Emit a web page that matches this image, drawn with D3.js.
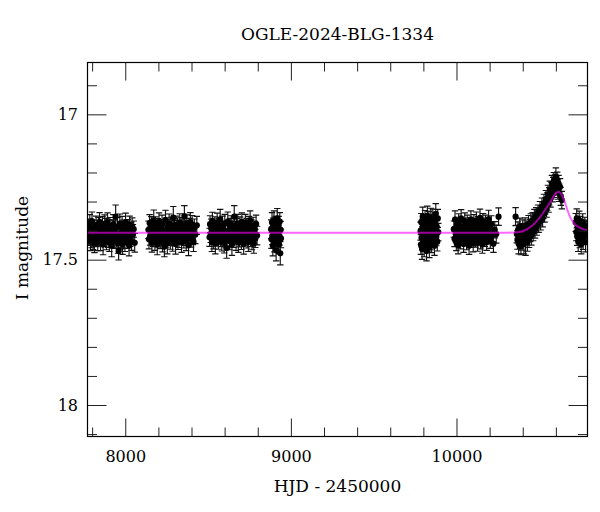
<!DOCTYPE html>
<html><head><meta charset="utf-8">
<script src="https://cdn.jsdelivr.net/npm/d3@7"></script>
<style>body{margin:0;background:#fff}svg{display:block}</style>
</head><body><svg id="c" width="600" height="512"></svg>
<script>
// ---- data: [HJD-2450000, I mag, error] ----
const season1 = [[7776,17.420,.031],[7779,17.388,.028],[7783,17.413,.034],[7786,17.375,.030],[7790,17.436,.033],[7793,17.400,.027],[7797,17.423,.036],[7799,17.367,.031],[7803,17.410,.029],[7806,17.430,.035],
[7810,17.394,.030],[7814,17.444,.032],[7817,17.403,.028],[7820,17.417,.037],[7824,17.381,.031],[7827,17.426,.029],[7831,17.406,.033],[7834,17.439,.030],[7838,17.389,.034],[7841,17.415,.028],
[7845,17.370,.032],[7848,17.421,.030],[7851,17.433,.036],[7855,17.397,.029],[7858,17.412,.031],[7862,17.385,.033],[7866,17.448,.035],[7869,17.401,.028],[7872,17.424,.030],[7876,17.378,.032],
[7879,17.418,.029],[7883,17.392,.034],[7886,17.435,.031],[7890,17.409,.028],[7893,17.372,.033],[7897,17.428,.030],[7900,17.399,.036],[7904,17.441,.031],[7907,17.384,.029],[7911,17.414,.032],
[7914,17.405,.030],[7918,17.452,.038],[7921,17.391,.028],[7925,17.419,.031],[7928,17.379,.034],[7932,17.432,.029],[7935,17.396,.030],[7939,17.411,.033],[7942,17.352,.040],[7946,17.427,.030],
[7949,17.416,.028],[7953,17.387,.032],[7956,17.443,.035],[7960,17.470,.031],[7963,17.422,.029],[7967,17.376,.033],[7970,17.434,.030],[7974,17.407,.028],[7977,17.425,.034],[7981,17.382,.031],
[7984,17.446,.036],[7988,17.393,.029],[7991,17.429,.032],[7995,17.398,.030],[7998,17.438,.034],[8002,17.371,.031],[8005,17.417,.029],[8009,17.404,.033],[8012,17.431,.030],[8016,17.390,.028],
[8019,17.410,.032],[8023,17.450,.037],[8026,17.380,.030],[8030,17.421,.033],[8034,17.400,.029],[8038,17.437,.031],[8042,17.386,.030],[8046,17.413,.034],[8051,17.395,.028],[8057,17.442,.032]];

const season2 = [[8140,17.397,.030],[8143,17.430,.033],[8147,17.374,.029],[8150,17.419,.031],[8154,17.408,.028],[8157,17.386,.034],[8161,17.442,.032],[8165,17.393,.030],[8168,17.426,.029],[8172,17.365,.036],
[8175,17.411,.030],[8179,17.435,.033],[8182,17.381,.028],[8186,17.415,.031],[8190,17.402,.029],[8193,17.448,.035],[8197,17.389,.030],[8200,17.424,.032],[8204,17.370,.031],[8207,17.406,.028],
[8211,17.432,.030],[8215,17.396,.033],[8218,17.417,.029],[8222,17.378,.031],[8225,17.439,.034],[8229,17.400,.028],[8232,17.421,.030],[8236,17.455,.035],[8240,17.413,.029],[8243,17.363,.033],
[8247,17.428,.031],[8250,17.404,.028],[8254,17.444,.036],[8257,17.391,.030],[8261,17.416,.029],[8265,17.375,.032],[8268,17.409,.030],[8272,17.431,.033],[8275,17.383,.029],[8279,17.420,.031],
[8282,17.398,.028],[8286,17.437,.034],[8290,17.355,.038],[8293,17.423,.030],[8297,17.394,.029],[8300,17.407,.031],[8304,17.446,.035],[8307,17.380,.030],[8311,17.414,.028],[8315,17.388,.032],
[8318,17.434,.031],[8322,17.401,.029],[8325,17.425,.033],[8329,17.372,.030],[8332,17.418,.028],[8336,17.403,.031],[8340,17.441,.034],[8343,17.384,.029],[8347,17.412,.030],[8350,17.392,.032],
[8354,17.429,.031],[8357,17.350,.036],[8361,17.422,.029],[8365,17.399,.030],[8368,17.436,.033],[8372,17.377,.031],[8375,17.416,.028],[8379,17.395,.030],[8382,17.450,.036],[8386,17.387,.029],
[8390,17.410,.031],[8393,17.371,.033],[8397,17.427,.030],[8400,17.405,.028],[8404,17.379,.031],[8408,17.419,.029],[8412,17.438,.034],[8417,17.390,.030],[8423,17.413,.032],[8432,17.382,.031]];

const season3 = [[8509,17.423,.031],[8512,17.378,.029],[8516,17.411,.030],[8519,17.393,.033],[8523,17.440,.032],[8526,17.367,.030],[8530,17.416,.028],[8533,17.429,.034],[8537,17.401,.029],[8541,17.384,.031],
[8544,17.445,.035],[8548,17.396,.030],[8551,17.420,.029],[8555,17.372,.032],[8558,17.407,.028],[8562,17.433,.031],[8565,17.389,.030],[8569,17.414,.033],[8573,17.361,.034],[8576,17.426,.029],
[8580,17.404,.030],[8583,17.438,.032],[8587,17.381,.031],[8590,17.418,.028],[8594,17.398,.030],[8597,17.443,.034],[8601,17.375,.031],[8605,17.410,.029],[8608,17.424,.032],[8612,17.460,.035],
[8615,17.431,.030],[8619,17.369,.033],[8622,17.413,.029],[8626,17.402,.031],[8629,17.436,.030],[8633,17.386,.028],[8637,17.421,.032],[8640,17.379,.030],[8644,17.449,.036],[8647,17.395,.029],
[8651,17.406,.031],[8654,17.428,.030],[8658,17.352,.038],[8661,17.417,.029],[8665,17.400,.031],[8669,17.435,.033],[8672,17.388,.030],[8676,17.412,.028],[8679,17.376,.032],[8683,17.441,.034],
[8686,17.397,.029],[8690,17.425,.031],[8693,17.383,.030],[8697,17.408,.028],[8701,17.432,.033],[8704,17.370,.031],[8708,17.419,.029],[8711,17.394,.030],[8715,17.446,.035],[8718,17.403,.028],
[8722,17.422,.031],[8725,17.374,.030],[8729,17.415,.029],[8733,17.390,.032],[8736,17.430,.030],[8740,17.399,.028],[8743,17.439,.033],[8747,17.382,.031],[8750,17.409,.029],[8754,17.366,.034],
[8757,17.424,.030],[8761,17.392,.029],[8765,17.434,.032],[8768,17.405,.030],[8772,17.385,.031],[8776,17.444,.034],[8780,17.396,.029],[8785,17.427,.031],[8790,17.377,.030],[8796,17.417,.032]];

const season4 = [[8881,17.395,.032],[8883,17.430,.031],[8886,17.372,.034],[8888,17.418,.030],[8891,17.452,.035],[8893,17.388,.031],[8896,17.410,.029],[8898,17.365,.033],[8901,17.441,.032],[8903,17.401,.030],
[8906,17.425,.031],[8908,17.380,.029],[8911,17.468,.036],[8913,17.392,.030],[8916,17.415,.031],[8918,17.358,.034],[8921,17.436,.030],[8923,17.405,.029],[8926,17.383,.032],[8928,17.447,.033],
[8931,17.420,.030],[8933,17.369,.031],[8936,17.478,.040],[8938,17.398,.030],[8940,17.427,.032]];

const season5 = [[9783,17.402,.031],[9785,17.448,.034],[9787,17.371,.030],[9789,17.425,.032],[9792,17.463,.036],[9794,17.390,.029],[9796,17.352,.033],[9798,17.436,.031],[9801,17.411,.030],[9803,17.378,.032],
[9805,17.455,.035],[9808,17.397,.029],[9810,17.362,.031],[9812,17.430,.033],[9815,17.415,.030],[9817,17.384,.029],[9819,17.470,.034],[9822,17.404,.031],[9824,17.349,.033],[9826,17.441,.030],
[9829,17.392,.029],[9831,17.420,.031],[9833,17.366,.032],[9836,17.458,.035],[9838,17.408,.030],[9840,17.381,.029],[9843,17.435,.031],[9845,17.356,.033],[9847,17.418,.030],[9850,17.444,.032],
[9852,17.388,.029],[9855,17.400,.031],[9857,17.360,.034],[9859,17.427,.030],[9862,17.375,.031],[9864,17.413,.029],[9867,17.452,.033],[9869,17.369,.030],[9872,17.395,.031],[9875,17.342,.035],
[9878,17.422,.030],[9881,17.386,.029],[9884,17.438,.032],[9887,17.358,.031],[9890,17.405,.030]];

const season6 = [[9984,17.395,.028],[9988,17.428,.027],[9991,17.362,.030],[9995,17.412,.026],[9999,17.440,.029],[10002,17.381,.027],[10006,17.405,.026],[10010,17.450,.030],[10013,17.370,.028],[10017,17.419,.027],
[10021,17.392,.026],[10024,17.434,.029],[10028,17.358,.030],[10032,17.408,.027],[10035,17.426,.026],[10039,17.385,.028],[10043,17.446,.029],[10046,17.400,.027],[10050,17.367,.028],[10054,17.422,.026],
[10057,17.390,.027],[10061,17.437,.029],[10065,17.375,.028],[10068,17.414,.026],[10072,17.398,.027],[10076,17.452,.030],[10079,17.383,.027],[10083,17.420,.026],[10087,17.361,.029],[10090,17.431,.027],
[10094,17.404,.026],[10098,17.388,.028],[10101,17.444,.029],[10105,17.372,.027],[10109,17.416,.026],[10112,17.396,.027],[10116,17.429,.028],[10120,17.365,.029],[10123,17.410,.026],[10127,17.442,.029],
[10131,17.379,.027],[10134,17.423,.026],[10138,17.393,.027],[10142,17.356,.030],[10145,17.435,.028],[10149,17.402,.026],[10153,17.384,.027],[10156,17.448,.030],[10160,17.369,.028],[10164,17.417,.026],
[10167,17.391,.027],[10171,17.426,.028],[10175,17.374,.027],[10178,17.409,.026],[10182,17.439,.029],[10186,17.387,.027],[10190,17.420,.026],[10194,17.360,.030],[10199,17.401,.027],[10204,17.433,.028],
[10210,17.378,.029],[10216,17.415,.027],[10223,17.445,.030],[10231,17.397,.028],[10240,17.412,.031],[10254,17.352,.030]];

const season7 = [[10357,17.352,.031],[10364,17.412,.030],[10368,17.432,.032],[10371,17.398,.028],[10375,17.445,.035],[10378,17.418,.030],[10382,17.386,.029],[10386,17.428,.033],[10389,17.452,.031],[10393,17.404,.028],
[10396,17.437,.030],[10400,17.392,.029],[10403,17.421,.032],[10407,17.446,.034],[10410,17.408,.030],[10414,17.384,.028],[10417,17.430,.055],[10421,17.415,.030],[10424,17.396,.029],[10428,17.440,.031],
[10431,17.402,.028],[10435,17.378,.030],[10438,17.425,.033],[10442,17.391,.029],[10445,17.410,.028],[10449,17.372,.030],[10452,17.418,.032],[10456,17.389,.029],[10460,17.366,.028],[10463,17.405,.030],
[10467,17.380,.029],[10470,17.358,.031],[10474,17.396,.030],[10477,17.372,.028],[10481,17.350,.029],[10485,17.384,.032],[10488,17.362,.030],[10492,17.340,.028],[10496,17.375,.031],[10500,17.352,.029],
[10504,17.330,.030],[10508,17.366,.032],[10512,17.342,.028],[10516,17.318,.030],[10520,17.356,.031],[10524,17.330,.029],[10528,17.305,.030],[10532,17.340,.031],[10536,17.315,.028],[10540,17.292,.030],
[10544,17.325,.029],[10548,17.300,.030],[10552,17.275,.031],[10556,17.308,.029],[10560,17.282,.030],[10564,17.258,.028],[10568,17.288,.031],[10572,17.262,.029],[10576,17.240,.030],[10580,17.272,.029],
[10584,17.248,.031],[10588,17.228,.028],[10592,17.256,.030],[10596,17.235,.029],[10600,17.215,.031],[10604,17.246,.030],[10608,17.228,.029],[10612,17.262,.030],[10616,17.238,.028],[10620,17.270,.030],
[10625,17.250,.029],[10630,17.282,.031],[10636,17.295,.030]];

const season8 = [[10720,17.372,.031],[10723,17.405,.030],[10726,17.358,.033],[10729,17.420,.031],[10732,17.385,.029],[10735,17.438,.034],[10738,17.395,.030],[10741,17.365,.032],[10744,17.428,.031],[10747,17.380,.029],
[10750,17.412,.030],[10753,17.446,.034],[10756,17.390,.029],[10759,17.402,.031],[10762,17.372,.030],[10765,17.432,.033],[10768,17.398,.029],[10771,17.416,.031],[10775,17.384,.030],[10779,17.440,.033],
[10783,17.408,.030],[10787,17.395,.031]];

// model light curve
const modelHJD = [7772, 10300, 10380, 10420, 10460, 10500, 10540, 10570, 10595, 10614, 10630, 10650, 10670, 10690, 10715, 10740, 10765, 10791];
const modelMag = [17.407, 17.407, 17.405, 17.397, 17.382, 17.357, 17.325, 17.298, 17.275, 17.266, 17.272, 17.295, 17.330, 17.358, 17.378, 17.389, 17.395, 17.399];

const xMajorTicks = [8000, 9000, 10000];
const xMinorTicks = [7800, 8200, 8400, 8600, 8800, 9200, 9400, 9600, 9800, 10200, 10400, 10600];
const yMajorTicks = [17, 17.5, 18];
const yMinorTicks = [16.9, 17.1, 17.2, 17.3, 17.4, 17.6, 17.7, 17.8, 17.9, 18.1];
const yTickLabels = ["17", "17.5", "18"];
const xTickLabels = ["8000", "9000", "10000"];
const title = "OGLE-2024-BLG-1334";
const xTitle = "HJD - 2450000";
const yTitle = "I magnitude";

// ---- drawing ----
const FONT = '"DejaVu Serif", serif';
const L = 87.5, R = 587.5, T = 62.5, B = 436.5;
const svg = d3.select("#c");
const x = d3.scaleLinear().domain([7772, 10791]).range([L, R]);
const y = d3.scaleLinear().domain([16.821, 18.109]).range([62.3, 436.7]);

const data = [].concat(season1, season2, season3, season4, season5, season6, season7, season8)
  .map(d => ({t: d[0], m: d[1], e: d[2]}));

svg.append("defs").append("clipPath").attr("id", "clip")
  .append("rect").attr("x", L).attr("y", T).attr("width", R - L).attr("height", B - T);

const plot = svg.append("g").attr("clip-path", "url(#clip)");
const cap = 3.2;
plot.append("g").selectAll("path").data(data).join("path")
  .attr("d", d => {
    const xx = x(d.t), y1 = y(d.m - d.e), y2 = y(d.m + d.e);
    return `M${xx},${y1}V${y2}M${xx - cap},${y1}H${xx + cap}M${xx - cap},${y2}H${xx + cap}`;
  })
  .attr("stroke", "#111").attr("stroke-width", 1.15).attr("fill", "none");
plot.append("g").selectAll("circle").data(data).join("circle")
  .attr("cx", d => x(d.t)).attr("cy", d => y(d.m)).attr("r", 3.1).attr("fill", "#000");

const model = modelHJD.map((t, i) => [t, modelMag[i]]);
plot.append("path").datum(model)
  .attr("d", d3.line().x(d => x(d[0])).y(d => y(d[1])).curve(d3.curveMonotoneX))
  .attr("fill", "none").attr("stroke", "#ff00ff").attr("stroke-opacity", 0.6).attr("stroke-width", 2);

// axes (inward ticks on all four sides)
function styleAxis(g) {
  g.select(".domain").remove();
  g.selectAll(".tick line").attr("stroke", "#222").attr("stroke-width", 1);
  g.selectAll(".tick text").attr("font-family", FONT).attr("font-size", 16).attr("fill", "#000");
  return g;
}
svg.append("g").attr("transform", `translate(0,${B})`)
  .call(d3.axisBottom(x).tickValues(xMajorTicks).tickSize(-18).tickPadding(14).tickFormat((d, i) => xTickLabels[i]))
  .call(styleAxis);
svg.append("g").attr("transform", `translate(0,${B})`)
  .call(d3.axisBottom(x).tickValues(xMinorTicks).tickSize(-9).tickFormat(""))
  .call(styleAxis);
svg.append("g").attr("transform", `translate(0,${T})`)
  .call(d3.axisTop(x).tickValues(xMajorTicks).tickSize(-18).tickFormat(""))
  .call(styleAxis);
svg.append("g").attr("transform", `translate(0,${T})`)
  .call(d3.axisTop(x).tickValues(xMinorTicks).tickSize(-9).tickFormat(""))
  .call(styleAxis);
svg.append("g").attr("transform", `translate(${L},0)`)
  .call(d3.axisLeft(y).tickValues(yMajorTicks).tickSize(-19).tickPadding(9.5).tickFormat((d, i) => yTickLabels[i]))
  .call(styleAxis);
svg.append("g").attr("transform", `translate(${L},0)`)
  .call(d3.axisLeft(y).tickValues(yMinorTicks).tickSize(-9.5).tickFormat(""))
  .call(styleAxis);
svg.append("g").attr("transform", `translate(${R},0)`)
  .call(d3.axisRight(y).tickValues(yMajorTicks).tickSize(-19).tickFormat(""))
  .call(styleAxis);
svg.append("g").attr("transform", `translate(${R},0)`)
  .call(d3.axisRight(y).tickValues(yMinorTicks).tickSize(-9.5).tickFormat(""))
  .call(styleAxis);

svg.append("rect").attr("x", L).attr("y", T).attr("width", R - L).attr("height", B - T)
  .attr("fill", "none").attr("stroke", "#000").attr("stroke-width", 1.2);

svg.append("text").attr("x", (L + R) / 2).attr("y", 39.5).attr("text-anchor", "middle")
  .attr("font-family", FONT).attr("font-size", 17).text(title);
svg.append("text").attr("x", (L + R) / 2).attr("y", 491.5).attr("text-anchor", "middle")
  .attr("font-family", FONT).attr("font-size", 17).text(xTitle);
svg.append("text").attr("transform", `translate(28,248) rotate(-90)`).attr("text-anchor", "middle")
  .attr("font-family", FONT).attr("font-size", 17).text(yTitle);
</script></body></html>
